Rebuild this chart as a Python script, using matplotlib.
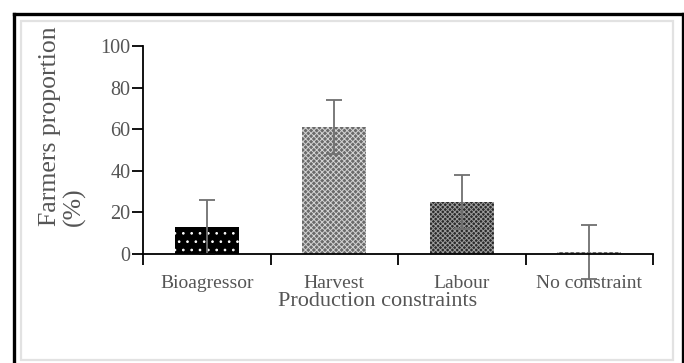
import numpy as np
import matplotlib
matplotlib.use("Agg")
import matplotlib.pyplot as plt
from matplotlib.lines import Line2D
from matplotlib.patches import Rectangle

plt.rcParams['font.family'] = ['Liberation Serif', 'DejaVu Serif']
plt.rcParams['hatch.linewidth'] = 0.7

constraints = ['Bioagressor', 'Harvest', 'Labour', 'No constraint']
proportion = [13, 61, 25, 1]
errors = [13, 13, 13, 13]

faces = ['#000000', '#6a6a6a', '#2a2a2a', '#6a6a6a']
hatches = ['..', 'xxxxxx', 'xxxxxxx', 'xxxxxx']
hatch_cols = ['white', '#d4d4d4', '#9c9c9c', '#d4d4d4']

fig = plt.figure(figsize=(6.84, 3.63), dpi=100)

# frame lines around the figure: black outer (no bottom), light grey inner box
W, H = 684, 363
fig.add_artist(Line2D([13.5 / W, 13.5 / W], [0, 1 - 13.5 / H], color='black', lw=2.4))
fig.add_artist(Line2D([13.5 / W, 682.5 / W], [1 - 13.5 / H, 1 - 13.5 / H], color='black', lw=2.4))
fig.add_artist(Line2D([682.5 / W, 682.5 / W], [0, 1 - 13.5 / H], color='black', lw=2.4))
fig.add_artist(Rectangle((21 / W, 1 - 360 / H), (673 - 21) / W, (360 - 21) / H,
                         transform=fig.transFigure, fill=False, ec='#e2e2e2', lw=1.6))

ax = fig.add_axes([143 / W, 1 - 254 / H, (653 - 143) / W, (254 - 46) / H])

x = np.arange(len(constraints))
for i in range(len(constraints)):
    plt.rcParams['hatch.color'] = hatch_cols[i]
    ax.bar(x[i], proportion[i], width=0.5, color=faces[i], hatch=hatches[i],
           edgecolor=hatch_cols[i], linewidth=0, zorder=2)

ax.errorbar(x, proportion, yerr=errors, fmt='none', ecolor='#707070',
            elinewidth=1.3, capsize=6, capthick=1.3, zorder=3, clip_on=False)

ax.set_xlim(-0.5, 3.5)
ax.set_ylim(0, 100)
ax.set_yticks([0, 20, 40, 60, 80, 100])
ax.set_xticks([-0.5, 0.5, 1.5, 2.5, 3.5])
ax.set_xticklabels([])
ax.set_xticks(x, minor=True)
ax.set_xticklabels(constraints, minor=True)

ax.tick_params(axis='x', which='major', direction='out', length=8, width=1.3)
ax.tick_params(axis='x', which='minor', length=0, pad=15, labelsize=14, labelcolor='#555555')
ax.tick_params(axis='y', direction='out', length=8, width=1.3, pad=1,
               labelsize=14.5, labelcolor='#555555')

for s in ['top', 'right']:
    ax.spines[s].set_visible(False)
for s in ['left', 'bottom']:
    ax.spines[s].set_linewidth(1.3)
    ax.spines[s].set_zorder(4)

ax.set_xlabel('Production constraints', fontsize=16, color='#555555')
ax.xaxis.set_label_coords(0.46, -0.185)

fig.text(62 / W, 1 - 226 / H, 'Farmers proportion\n(%)', rotation=90,
         ha='center', va='bottom', multialignment='left', linespacing=1.1,
         fontsize=18.5, color='#555555')

fig.savefig('out.png', dpi=100)
